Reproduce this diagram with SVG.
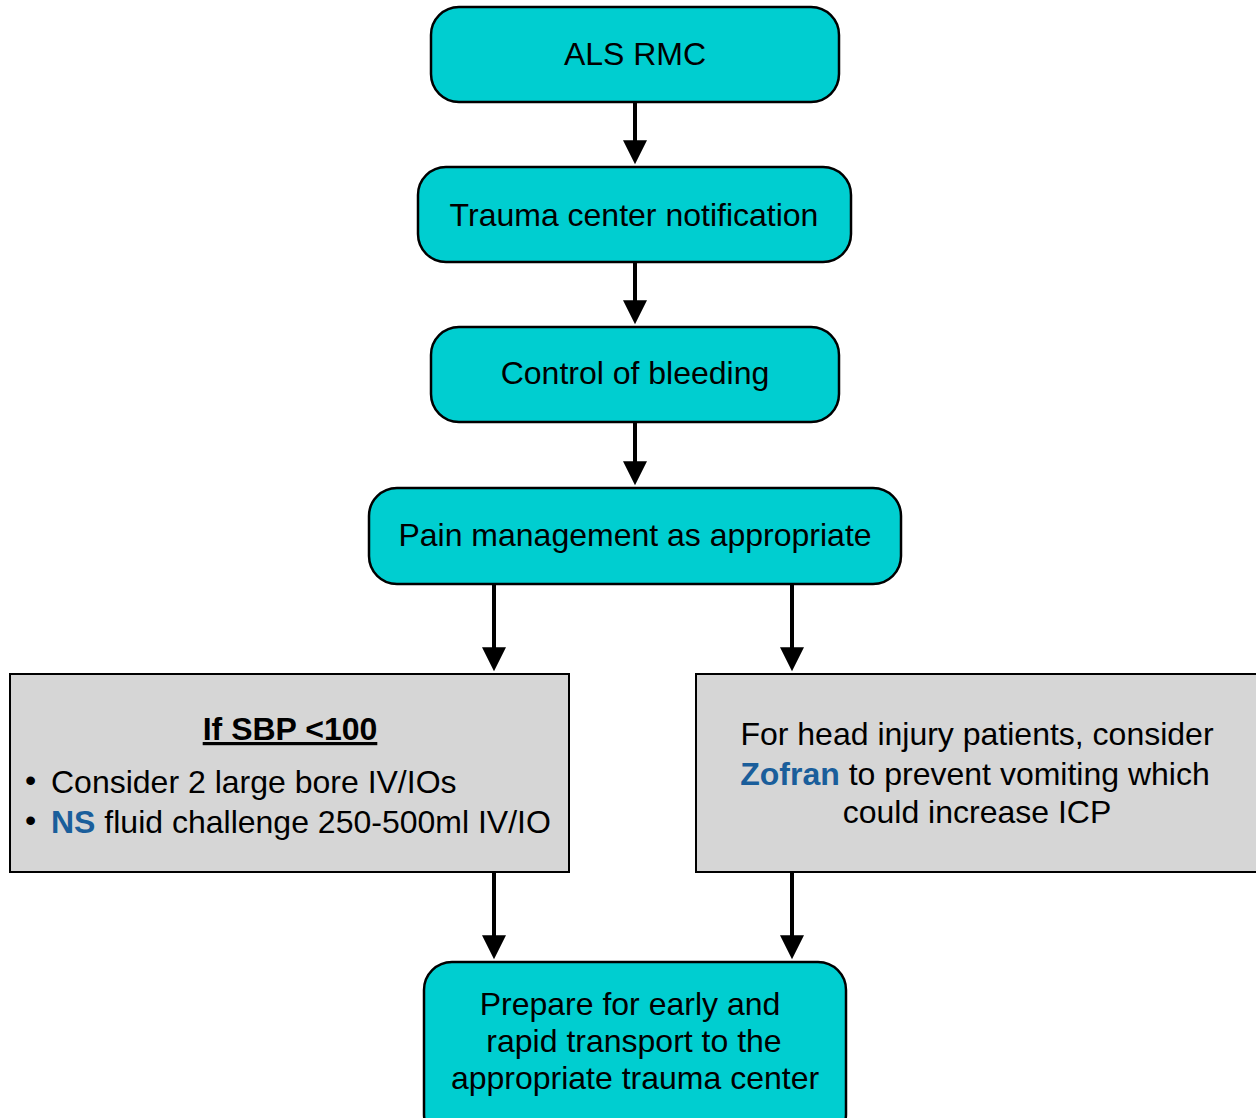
<svg xmlns="http://www.w3.org/2000/svg" width="1256" height="1118" viewBox="0 0 1256 1118">
<style>
.t{fill:#00CED0;stroke:#000;stroke-width:2.5}
.g{fill:#D6D6D6;stroke:#000;stroke-width:2}
text{font-family:"Liberation Sans",Arial,sans-serif;font-size:32px;fill:#000}
.c{text-anchor:middle}
.b{font-weight:bold}
.blue{fill:#1A5E9B;font-weight:bold}
.ln{stroke:#000;stroke-width:4;fill:none}
</style>
<defs>
<marker id="ah" markerWidth="6" markerHeight="6" refX="0.2" refY="3" orient="auto" markerUnits="strokeWidth" overflow="visible">
<path d="M0,0 L6,3 L0,6 Z" fill="#000"/>
</marker>
</defs>
<rect width="1256" height="1118" fill="#fff"/>
<g id="connectors">
<line class="ln" x1="635" y1="102" x2="635" y2="141" marker-end="url(#ah)"/>
<line class="ln" x1="635" y1="262" x2="635" y2="301" marker-end="url(#ah)"/>
<line class="ln" x1="635" y1="422" x2="635" y2="462" marker-end="url(#ah)"/>
<line class="ln" x1="494" y1="584" x2="494" y2="648" marker-end="url(#ah)"/>
<line class="ln" x1="792" y1="584" x2="792" y2="648" marker-end="url(#ah)"/>
<line class="ln" x1="494" y1="872" x2="494" y2="936" marker-end="url(#ah)"/>
<line class="ln" x1="792" y1="872" x2="792" y2="936" marker-end="url(#ah)"/>
</g>
<g id="n1"><rect class="t" x="431" y="7" width="408" height="95" rx="28"/><text class="c" x="635" y="65">ALS RMC</text></g>
<g id="n2"><rect class="t" x="418" y="167" width="433" height="95" rx="28"/><text class="c" x="634" y="226">Trauma center notification</text></g>
<g id="n3"><rect class="t" x="431" y="327" width="408" height="95" rx="28"/><text class="c" x="635" y="384">Control of bleeding</text></g>
<g id="n4"><rect class="t" x="369" y="488" width="532" height="96" rx="28"/><text class="c" x="635" y="546">Pain management as appropriate</text></g>
<g id="n5"><rect class="g" x="10" y="674" width="559" height="198"/>
<text class="c b" x="290" y="740" text-decoration="underline">If SBP &lt;100</text>
<text x="25" y="791" font-size="20">•</text><text x="51" y="793">Consider 2 large bore IV/IOs</text>
<text x="25" y="831" font-size="20">•</text><text x="51" y="833"><tspan class="blue">NS</tspan> fluid challenge 250-500ml IV/IO</text>
</g>
<g id="n6"><rect class="g" x="696" y="674" width="562" height="198"/>
<text class="c" x="977" y="745">For head injury patients, consider</text>
<text class="c" x="975" y="785"><tspan class="blue">Zofran</tspan> to prevent vomiting which</text>
<text class="c" x="977" y="823">could increase ICP</text>
</g>
<g id="n7"><rect class="t" x="424" y="962" width="422" height="180" rx="28"/>
<text class="c" x="630" y="1015">Prepare for early and</text>
<text class="c" x="634" y="1052">rapid transport to the</text>
<text class="c" x="635" y="1089">appropriate trauma center</text>
</g>
</svg>
